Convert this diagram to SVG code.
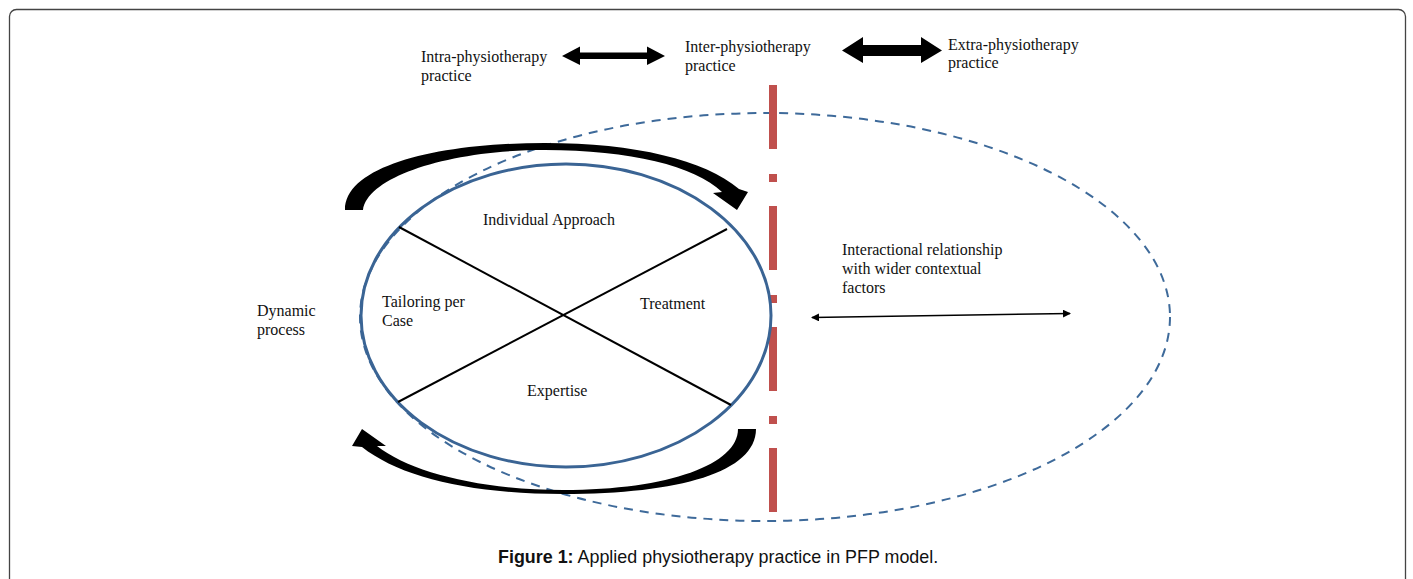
<svg xmlns="http://www.w3.org/2000/svg" width="1413" height="579" viewBox="0 0 1413 579">
<defs>
<style>
.t{font-family:"Liberation Serif","Times New Roman",serif;font-size:16px;fill:#111}
.cap{font-family:"Liberation Sans",Arial,sans-serif;font-size:17.9px;fill:#111}
</style>
<marker id="ah" markerWidth="8" markerHeight="8" refX="7" refY="4" orient="auto-start-reverse" markerUnits="userSpaceOnUse">
<path d="M0,0 L8,4 L0,8 Z" fill="#000"/>
</marker>
</defs>
<rect x="0" y="0" width="1413" height="579" fill="#fff"/>
<rect x="9.5" y="9.5" width="1396" height="600" rx="7" fill="none" stroke="#444" stroke-width="1.3"/>

<g id="context-ellipse">
<ellipse cx="765" cy="317" rx="405" ry="204" fill="none" stroke="#3E6A9A" stroke-width="2" stroke-dasharray="9,7"/>
</g>

<g id="divider">
<line x1="773" y1="85" x2="773" y2="514" stroke="#C0504D" stroke-width="8" stroke-dasharray="64,25,8,24"/>
</g>

<g id="core">
<ellipse cx="566" cy="315.5" rx="205" ry="151.5" fill="none" stroke="#3A6494" stroke-width="3"/>
<line x1="399" y1="227" x2="731" y2="405" stroke="#000" stroke-width="2"/>
<line x1="398" y1="402" x2="727" y2="229" stroke="#000" stroke-width="2"/>
<text class="t" x="483" y="225">Individual Approach</text>
<text class="t" x="382" y="307">Tailoring per</text>
<text class="t" x="382" y="326">Case</text>
<text class="t" x="640" y="309">Treatment</text>
<text class="t" x="527" y="396">Expertise</text>
</g>

<g id="dynamic">
<path d="M345,210 L363,210 C368,176 450,150 545,150 C630,150 695,166 722,192 L713,193 L737,210 L748,192 L739,189 C705,160 635,143 545,143 C440,143 345,165 345,210 Z" fill="#000"/>
<path d="M738,429 L756,429 C756,472 680,494 563,494 C470,494 400,477 362,447 L352,446 L362,429 L386,446 L377,446 C410,472 480,490 563,490 C670,490 738,464 738,429 Z" fill="#000"/>
<text class="t" x="257" y="316">Dynamic</text>
<text class="t" x="257" y="335">process</text>
</g>

<g id="levels">
<text class="t" x="421" y="62">Intra-physiotherapy</text>
<text class="t" x="421" y="81">practice</text>
<text class="t" x="685" y="52">Inter-physiotherapy</text>
<text class="t" x="685" y="71">practice</text>
<text class="t" x="948" y="50">Extra-physiotherapy</text>
<text class="t" x="948" y="68">practice</text>
</g>

<g id="connectors">
<path d="M562,56 L580,46.5 L580,52.5 L647,52.5 L647,46.5 L665,56 L647,65 L647,59 L580,59 L580,65 Z" fill="#000"/>
<path d="M842,50.5 L863,37 L863,45 L921,45 L921,37 L942,50.5 L921,63 L921,56 L863,56 L863,63 Z" fill="#000"/>
<line x1="812" y1="317.5" x2="1070" y2="313.5" stroke="#000" stroke-width="1.5" marker-start="url(#ah)" marker-end="url(#ah)"/>
</g>

<g id="context-label">
<text class="t" x="842" y="255">Interactional relationship</text>
<text class="t" x="842" y="274">with wider contextual</text>
<text class="t" x="842" y="293">factors</text>
</g>

<text class="cap" x="498" y="563"><tspan font-weight="bold">Figure 1:</tspan> Applied physiotherapy practice in PFP model.</text>
</svg>
